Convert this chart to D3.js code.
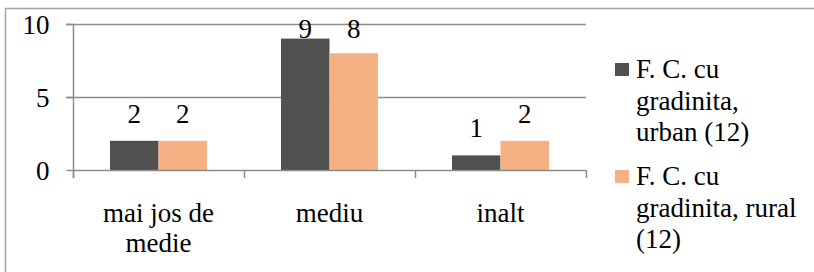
<!DOCTYPE html>
<html><head><meta charset="utf-8">
<script src="https://cdn.jsdelivr.net/npm/d3@7/dist/d3.min.js"></script>
</head><body style="margin:0">
<svg id="c" width="814" height="272"></svg>
<script>
const categories = [["mai jos de","medie"],["mediu"],["inalt"]];
const seriesNames = [["F. C. cu","gradinita,","urban (12)"],["F. C. cu","gradinita, rural","(12)"]];
const urban = [2, 9, 1];
const rural = [2, 8, 2];
const yTicks = [0, 5, 10];
const colors = ["#505050", "#F4B183"];

const FONT = '"Liberation Serif"';
const svg = d3.select("#c");
const fs = 27;
// outer frame
svg.append("rect").attr("x",5.5).attr("y",8.5).attr("width",820).attr("height",280)
  .attr("fill","none").attr("stroke","#a6a6a6").attr("stroke-width",1.5);

const L = 73, R = 586, T = 24, B = 170;
const x = d3.scaleBand().domain(d3.range(categories.length)).range([L, R]).paddingInner(0).paddingOuter(0);
const y = d3.scaleLinear().domain([0, 10]).range([B, T]);
const inner = d3.scaleBand().domain([0,1]).range([0, x.bandwidth()]).paddingOuter(0.763).paddingInner(0);

// gridlines
svg.append("g").selectAll("line").data(yTicks.filter(t=>t>0)).join("line")
  .attr("x1", L-7).attr("x2", R).attr("y1", d=>Math.round(y(d))+0.5).attr("y2", d=>Math.round(y(d))+0.5)
  .attr("stroke","#8c8c8c").attr("stroke-width",1.5);

// bars
const data = [urban, rural];
data.forEach((s, si) => {
  svg.append("g").selectAll("rect").data(s).join("rect")
    .attr("x", (d,i)=>x(i)+inner(si))
    .attr("width", inner.bandwidth())
    .attr("y", d=>y(d)).attr("height", d=>B-y(d))
    .attr("fill", colors[si]);
  svg.append("g").selectAll("text").data(s).join("text")
    .attr("x", (d,i)=>x(i)+inner(si)+inner.bandwidth()/2)
    .attr("y", d=>Math.max(y(d)-18, 38))
    .attr("text-anchor","middle").attr("font-size",fs).style("font-family",d=>FONT).text(d=>d);
});

// y axis
const yAxis = d3.axisLeft(y).tickValues(yTicks).tickSize(7).tickPadding(17);
const ya = svg.append("g").attr("transform",`translate(${L+0.5},0)`).call(yAxis);
ya.attr("font-family",null).attr("font-size",null);
ya.select(".domain").attr("stroke","#8c8c8c").attr("stroke-width",1.5).attr("d",`M0,${T}V${B+8}`);
ya.selectAll(".tick line").attr("stroke","#8c8c8c").attr("stroke-width",1.5);
ya.selectAll(".tick text").attr("font-size",fs).attr("dy",null).attr("y",9)
  .style("font-family",d=>FONT).attr("fill","#000");

// x axis
svg.append("line").attr("x1",L).attr("x2",R).attr("y1",B+0.5).attr("y2",B+0.5)
  .attr("stroke","#8c8c8c").attr("stroke-width",1.5);
svg.append("g").selectAll("line").data(d3.range(categories.length+1)).join("line")
  .attr("x1", i=>Math.round(L + i*x.bandwidth())+0.5).attr("x2", i=>Math.round(L + i*x.bandwidth())+0.5)
  .attr("y1", B).attr("y2", B+8).attr("stroke","#8c8c8c").attr("stroke-width",1.5);
const cl = svg.append("g").selectAll("text").data(categories).join("text")
  .attr("text-anchor","middle").attr("font-size",fs).style("font-family",d=>FONT)
  .attr("transform",(d,i)=>`translate(${x(i)+x.bandwidth()/2},222)`);
cl.selectAll("tspan").data(d=>d).join("tspan").attr("x",0).attr("dy",(d,j)=>j?30:0).text(d=>d);

// legend
const lg = svg.append("g").selectAll("g").data(seriesNames).join("g")
  .attr("transform",(d,i)=>`translate(615,${63 + i*107})`);
lg.append("rect").attr("width",14).attr("height",13).attr("fill",(d,i)=>colors[i]);
const lt = lg.append("text").attr("x",21).attr("y",15).attr("font-size",fs).style("font-family",d=>FONT);
lt.selectAll("tspan").data(d=>d).join("tspan").attr("x",21).attr("dy",(d,j)=>j?31.5:0).text(d=>d);
</script></body></html>
